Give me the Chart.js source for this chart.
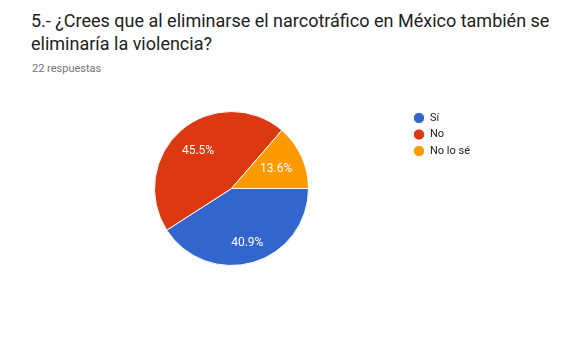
<!DOCTYPE html>
<html>
<head>
<meta charset="utf-8">
<script src="https://cdn.jsdelivr.net/npm/chart.js@4/dist/chart.umd.min.js"></script>
<style>
  html, body { margin: 0; padding: 0; background: #fff; }
  body { width: 583px; height: 356px; position: relative; overflow: hidden; font-family: Roboto, Arial, sans-serif; }
  #title { position: absolute; left: 31px; top: 9px; font-size: 18px; line-height: 23px; color: #212121; }
  #sub { position: absolute; left: 32px; top: 62px; font-size: 11px; color: #757575; }
  #wrap { position: absolute; left: 0; top: 0; width: 583px; height: 356px; }
</style>
</head>
<body>
<div id="title">5.- ¿Crees que al eliminarse el narcotráfico en México también se<br>eliminaría la violencia?</div>
<div id="sub">22 respuestas</div>
<div id="wrap"><canvas id="c" width="583" height="356"></canvas></div>
<script>
const categories = ['Sí', 'No', 'No lo sé'];
const counts = [9, 10, 3];
const percentLabels = ['40.9%', '45.5%', '13.6%'];
const colors = ['#3366cc', '#dc3912', '#ff9900'];

const placePlugin = {
  id: 'place',
  afterLayout(chart) {
    const ca = chart.chartArea;
    ca.left = 154; ca.right = 309; ca.top = 111; ca.bottom = 266;
    ca.width = 155; ca.height = 155;
    const lg = chart.legend;
    const w = lg.width, h = lg.height;
    lg.left = 408; lg.right = 408 + w;
    lg.top = 107; lg.bottom = 107 + h;
  }
};

const labelPlugin = {
  id: 'sliceLabels',
  afterDatasetsDraw(chart) {
    const ctx = chart.ctx;
    const meta = chart.getDatasetMeta(0);
    ctx.save();
    ctx.fillStyle = '#ffffff';
    ctx.font = '12px Roboto, Arial, sans-serif';
    ctx.textAlign = 'center';
    ctx.textBaseline = 'middle';
    meta.data.forEach((arc, i) => {
      const p = arc.getProps(['x', 'y', 'startAngle', 'endAngle', 'outerRadius'], true);
      const mid = (p.startAngle + p.endAngle) / 2;
      const hw = ctx.measureText(percentLabels[i]).width / 2;
      const hh = 6;
      const c = Math.cos(mid), s = Math.sin(mid);
      const r = p.outerRadius * 0.86 - (Math.abs(c) * hw + Math.abs(s) * hh);
      ctx.fillText(percentLabels[i], p.x + c * r, p.y + s * r + 1);
    });
    ctx.restore();
  }
};

new Chart(document.getElementById('c'), {
  type: 'pie',
  data: {
    labels: categories,
    datasets: [{
      data: counts,
      backgroundColor: colors,
      borderColor: '#ffffff',
      borderWidth: 1
    }]
  },
  options: {
    responsive: false,
    animation: false,
    rotation: 90,
    layout: { padding: 0 },
    plugins: {
      legend: {
        position: 'right',
        align: 'start',
        labels: {
          usePointStyle: true,
          pointStyle: 'circle',
          boxHeight: 8,
          padding: 5.5,
          color: '#222222',
          font: { family: 'Roboto, Arial, sans-serif', size: 11 }
        }
      },
      tooltip: { enabled: false }
    }
  },
  plugins: [placePlugin, labelPlugin]
});
</script>
</body>
</html>
